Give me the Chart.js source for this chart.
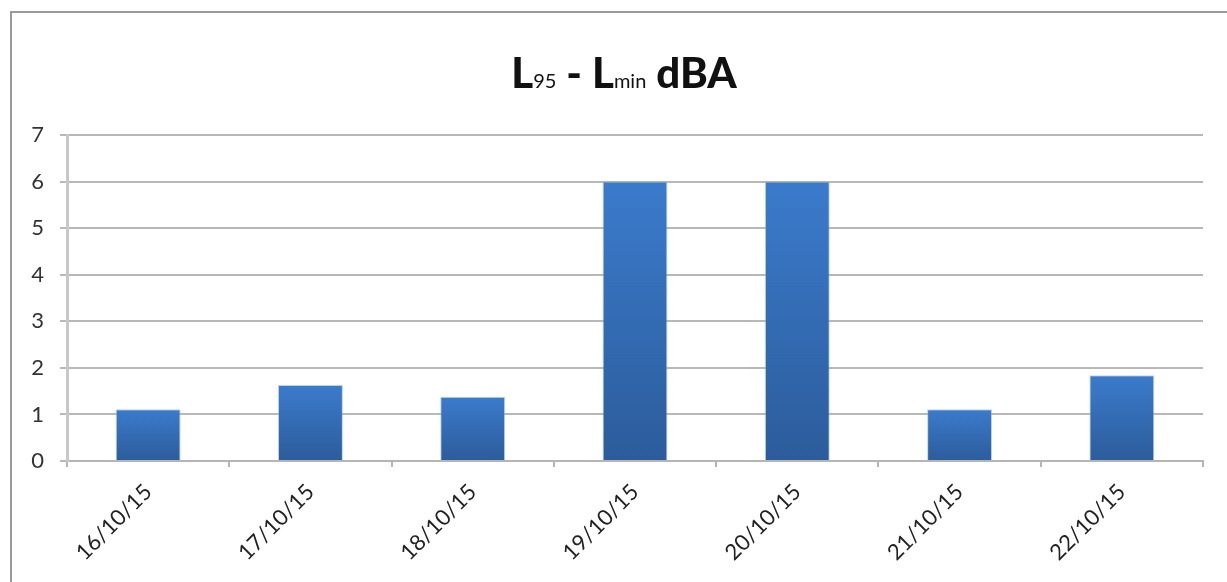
<!DOCTYPE html>
<html>
<head>
<meta charset="utf-8">
<script src="https://cdn.jsdelivr.net/npm/chart.js@4.4.1/dist/chart.umd.min.js"></script>
<style>
  html, body { margin: 0; padding: 0; background: #ffffff; }
  #wrap { position: relative; width: 1227px; height: 582px; }
  canvas { display: block; }
</style>
</head>
<body>
<div id="wrap"><canvas id="c" width="1227" height="582"></canvas></div>
<script>
// ---- data ----
const categories = ['16/10/15', '17/10/15', '18/10/15', '19/10/15', '20/10/15', '21/10/15', '22/10/15'];
const values = [1.11, 1.63, 1.38, 6.0, 6.0, 1.11, 1.84];
const yTicks = [0, 1, 2, 3, 4, 5, 6, 7];
const titleParts = [
  { text: 'L', sub: false },
  { text: '95', sub: true },
  { text: ' - ', sub: false },
  { text: 'L', sub: false },
  { text: 'min', sub: true },
  { text: ' dBA', sub: false }
];

const FONT = 'Lato, "Open Sans", "DejaVu Sans", sans-serif';

// frame + title plugin
const framePlugin = {
  id: 'frame',
  beforeDraw(chart) {
    const c = chart.ctx;
    c.save();
    c.fillStyle = '#ffffff';
    c.fillRect(0, 0, chart.width, chart.height);
    c.strokeStyle = '#9a9a9a';
    c.lineWidth = 2;
    c.beginPath();
    c.moveTo(11, chart.height);
    c.lineTo(11, 12);
    c.lineTo(chart.width, 12);
    c.stroke();
    c.restore();
  },
  afterDraw(chart) {
    const c = chart.ctx;
    c.save();
    c.fillStyle = '#111111';
    c.textBaseline = 'alphabetic';
    const big = '900 42px ' + FONT;
    const small = '20px ' + FONT;
    let total = 0;
    const widths = titleParts.map(p => {
      c.font = p.sub ? small : big;
      const w = c.measureText(p.text).width;
      total += w;
      return w;
    });
    let x = 624 - total / 2;
    const baseline = 88;
    titleParts.forEach((p, i) => {
      c.font = p.sub ? small : big;
      c.fillText(p.text, x, baseline);
      x += widths[i];
    });
    c.restore();
  }
};

function barGradient(ctx) {
  const chart = ctx.chart;
  const scales = chart.scales;
  if (!chart.chartArea || !scales || !scales.y) return '#3471bd';
  const v = ctx.raw;
  const y0 = scales.y.getPixelForValue(0);
  const y1 = scales.y.getPixelForValue(v);
  const g = chart.ctx.createLinearGradient(0, y1, 0, y0);
  g.addColorStop(0, '#3b7bcc');
  g.addColorStop(1, '#2c5c9b');
  return g;
}

new Chart(document.getElementById('c'), {
  type: 'bar',
  data: {
    labels: categories,
    datasets: [{
      data: values,
      backgroundColor: barGradient,
      borderColor: 'rgba(140,180,230,0.6)',
      borderWidth: 1,
      borderSkipped: 'bottom',
      barPercentage: 0.4,
      categoryPercentage: 1.0
    }]
  },
  options: {
    responsive: false,
    animation: false,
    devicePixelRatio: 1,
    layout: { padding: { top: 135, right: 24, left: 0, bottom: 0 } },
    plugins: {
      legend: { display: false },
      title: { display: false },
      tooltip: { enabled: false }
    },
    scales: {
      x: {
        offset: true,
        grid: {
          offset: true,
          drawOnChartArea: false,
          drawTicks: true,
          tickLength: 6,
          color: '#b5b5b5',
          lineWidth: 2
        },
        border: { display: true, color: '#b5b5b5', width: 2 },
        ticks: {
          minRotation: 45,
          maxRotation: 45,
          padding: 12,
          color: '#222222',
          font: { family: FONT, size: 22 }
        },
        afterFit(scale) { scale.height = 121; }
      },
      y: {
        min: 0,
        max: 7,
        afterBuildTicks(scale) { scale.ticks = yTicks.map(v => ({ value: v })); },
        grid: {
          color: '#b8b8b8',
          lineWidth: 2,
          drawTicks: true,
          tickLength: 7
        },
        border: { display: true, color: '#c8c8c8', width: 3 },
        ticks: {
          padding: 16,
          color: '#333333',
          font: { family: FONT, size: 22 }
        },
        afterFit(scale) { scale.width = 67; }
      }
    }
  },
  plugins: [framePlugin]
});
</script>
</body>
</html>
